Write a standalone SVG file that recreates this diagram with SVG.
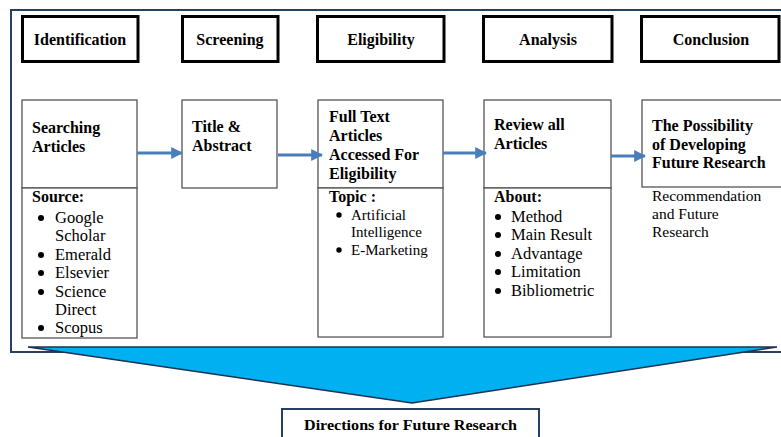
<svg xmlns="http://www.w3.org/2000/svg" width="781" height="437" viewBox="0 0 781 437">
<style>
.hdr{fill:#fff;stroke:#000;stroke-width:3}
.box{fill:#fff;stroke:#555;stroke-width:1.3}
text{font-family:'Liberation Serif','DejaVu Serif',serif;fill:#000}
.b{font-weight:bold;font-size:16px}
.h{font-weight:bold;font-size:16px;text-anchor:middle}
.l{font-size:16.5px}
.s{font-size:15px}
.r{font-size:15.5px}
.arr{fill:none;stroke:#4a7ebb;stroke-width:3}
</style>
<defs>
<marker id="ah" viewBox="0 0 10 10" refX="9" refY="5" markerWidth="4" markerHeight="4" markerUnits="strokeWidth" orient="auto">
<path d="M0,0 L10,5 L0,10 z" fill="#4a7ebb"/>
</marker>
</defs>
<rect id="frame" x="11" y="10" width="780" height="342" fill="#fff" stroke="#2a3f5f" stroke-width="2"/>

<g id="h1"><rect class="hdr" x="22.5" y="16.5" width="115.5" height="45"/><text class="h" x="80" y="45">Identification</text></g>
<g id="h2"><rect class="hdr" x="182.5" y="16.5" width="95.5" height="45"/><text class="h" x="230" y="45">Screening</text></g>
<g id="h3"><rect class="hdr" x="317.5" y="16.5" width="126.5" height="45"/><text class="h" x="381" y="45">Eligibility</text></g>
<g id="h4"><rect class="hdr" x="483.5" y="16.5" width="128.5" height="45"/><text class="h" x="548" y="45">Analysis</text></g>
<g id="h5"><rect class="hdr" x="641.5" y="16.5" width="137.5" height="45"/><text class="h" x="711" y="45">Conclusion</text></g>

<g id="n1">
<rect class="box" x="22" y="100" width="115" height="88"/>
<rect class="box" x="22" y="188" width="115" height="150"/>
<text class="b" x="32" y="133">Searching</text>
<text class="b" x="32" y="152">Articles</text>
<text class="b" x="32" y="202">Source:</text>
<g fill="#000"><circle cx="41" cy="218" r="3"/><circle cx="41" cy="255" r="3"/><circle cx="41" cy="273" r="3"/><circle cx="41" cy="292" r="3"/><circle cx="41" cy="328" r="3"/></g>
<text class="l" x="55" y="223">Google</text>
<text class="l" x="55" y="241">Scholar</text>
<text class="l" x="55" y="260">Emerald</text>
<text class="l" x="55" y="278">Elsevier</text>
<text class="l" x="55" y="297">Science</text>
<text class="l" x="55" y="315">Direct</text>
<text class="l" x="55" y="333">Scopus</text>
</g>

<g id="n2">
<rect class="box" x="182" y="100" width="95" height="88"/>
<text class="b" x="192" y="132">Title &amp;</text>
<text class="b" x="192" y="151">Abstract</text>
</g>

<g id="n3">
<rect class="box" x="318" y="100" width="125" height="88"/>
<rect class="box" x="318" y="188" width="125" height="149"/>
<text class="b" x="329" y="122">Full Text</text>
<text class="b" x="329" y="141">Articles</text>
<text class="b" x="329" y="160">Accessed For</text>
<text class="b" x="329" y="179">Eligibility</text>
<text class="b" x="329" y="202">Topic :</text>
<g fill="#000"><circle cx="339" cy="215" r="2.7"/><circle cx="339" cy="250" r="2.7"/></g>
<text class="s" x="351" y="220">Artificial</text>
<text class="s" x="351" y="237">Intelligence</text>
<text class="s" x="351" y="255">E-Marketing</text>
</g>

<g id="n4">
<rect class="box" x="484" y="100" width="127" height="88"/>
<rect class="box" x="484" y="188" width="127" height="149"/>
<text class="b" x="494" y="130">Review all</text>
<text class="b" x="494" y="149">Articles</text>
<text class="b" x="494" y="202">About:</text>
<g fill="#000"><circle cx="498" cy="217" r="3"/><circle cx="498" cy="235" r="3"/><circle cx="498" cy="254" r="3"/><circle cx="498" cy="272" r="3"/><circle cx="498" cy="291" r="3"/></g>
<text class="l" x="511" y="222">Method</text>
<text class="l" x="511" y="240">Main Result</text>
<text class="l" x="511" y="259">Advantage</text>
<text class="l" x="511" y="277">Limitation</text>
<text class="l" x="511" y="296">Bibliometric</text>
</g>

<g id="n5">
<rect class="box" x="642" y="100" width="150" height="87"/>
<text class="b" x="652" y="131">The Possibility</text>
<text class="b" x="652" y="150">of Developing</text>
<text class="b" x="652" y="168">Future Research</text>
<text class="r" x="652" y="201">Recommendation</text>
<text class="r" x="652" y="219">and Future</text>
<text class="r" x="652" y="237">Research</text>
</g>

<g id="connectors">
<path class="arr" d="M137,153 L182,153" marker-end="url(#ah)"/>
<path class="arr" d="M278,155 L322,155" marker-end="url(#ah)"/>
<path class="arr" d="M443,153 L486,153" marker-end="url(#ah)"/>
<path class="arr" d="M611,156 L645,156" marker-end="url(#ah)"/>
</g>

<g id="funnel">
<polygon points="28,347 777,347 412,403" fill="#00b0f0" stroke="#1f3050" stroke-width="1.5" stroke-linejoin="miter"/>
</g>

<g id="n6">
<rect x="282" y="409" width="257" height="40" fill="#fff" stroke="#2a3f5f" stroke-width="2"/>
<text x="410.5" y="430" font-size="15" font-weight="bold" text-anchor="middle" textLength="213" lengthAdjust="spacingAndGlyphs">Directions for Future Research</text>
</g>
</svg>
